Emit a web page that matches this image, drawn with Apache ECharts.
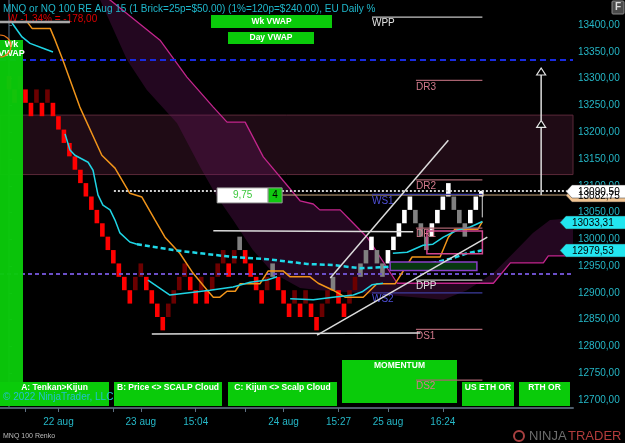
<!DOCTYPE html>
<html>
<head>
<meta charset="utf-8">
<title>MNQ 100 Renko</title>
<script src="https://cdn.jsdelivr.net/npm/echarts@6.0.0/dist/echarts.min.js"></script>
<style>
  html, body { margin: 0; padding: 0; background: #000; overflow: hidden; }
  #mychart { width: 625px; height: 443px; }
</style>
</head>
<body>
<div id="mychart"></div>
<script>
"use strict";
const FONT = '"Liberation Sans", Arial, sans-serif';

// renko bricks of 25 points, low edge of each brick, oldest first
// (the first three sit under the left "Wk VWAP" box)
const brickSize = 25;
const brickLow = [
    13280, 13255, 13280, 13255, 13230, 13255, 13230, 13255, 13230, 13205,
    13180, 13155, 13130, 13105, 13080, 13055, 13030, 13005, 12980, 12955,
    12930, 12905, 12880, 12905, 12930, 12905, 12880, 12855, 12830, 12855,
    12880, 12905, 12930, 12905, 12880, 12905, 12880, 12905, 12930, 12955,
    12930, 12955, 12980, 12955, 12930, 12905, 12880, 12905, 12930, 12905,
    12880, 12855, 12880, 12855, 12880, 12855, 12830, 12855, 12880, 12905,
    12880, 12855, 12880, 12905, 12930, 12955, 12980, 12955, 12930, 12955,
    12980, 13005, 13030, 13055, 13030, 13005, 12980, 13005, 13030, 13055,
    13080, 13055, 13030, 13005, 13030, 13055
];
// R = down, D = up in downtrend, G = grey, W = up
const brickType = ('RRDRRDRDRR' + 'RRRRRRRRRR' + 'RRRDDRRRRD' + 'DDDRRDRDDD' + 'RDGRRRRDGR' +
    'RRDRDRRDDG' + 'RRDDGGWGGW' + 'WWWWGGGWWW' + 'WGGGWW').split('');
// forming brick: index, open, close, low, high
const lastBar = [86, 13080, 13090.5, 13041, 13092];

// x axis (brick index)
const tickIdx = [3, 9, 19, 24, 34, 43, 50, 60, 69, 79];
const labelIdx = [9, 24, 34, 50, 60, 69, 79];
const labelText = ['22 aug', '23 aug', '15:04', '24 aug', '15:27', '25 aug', '16:24'];
const yTicks = [12700, 12750, 12800, 12850, 12900, 12950, 13000, 13050, 13100, 13150,
    13200, 13250, 13300, 13350, 13400];

// indicators, [brick index, price]
const orangeLine = [[3.1, 13409], [4.2, 13394], [7.5, 13394], [8.4, 13372], [9.8, 13335], [12.9, 13247],
    [16.9, 13157], [19.3, 13133], [22.0, 13086], [24.2, 13079], [26.6, 13036], [28.4, 13004],
    [31.1, 12974], [33.5, 12937], [36.1, 12905], [37.2, 12892], [38.4, 12892], [39.7, 12903],
    [41.2, 12903], [42.1, 12917], [45.7, 12917], [47.2, 12941], [49.9, 12941], [51.2, 12930],
    [54.8, 12930], [56.3, 12918], [59.0, 12905], [61.2, 12892], [64.5, 12892], [67.0, 12917],
    [70.3, 12917], [73.4, 12967], [78.5, 12967], [80.0, 13004], [81.2, 13019], [85.4, 13019],
    [86.2, 13033]];
const cyanLine = [[0.55, 13404], [2.37, 13378], [3.83, 13366], [6.19, 13357], [8.01, 13350], [9, null],
    [10.2, 13197], [11.1, 13167], [12.0, 13157], [14.4, 13144], [15.3, 13129], [16.2, 13083],
    [17.1, 13064], [18.4, 13055], [19.3, 13036], [20.2, 13012], [22.0, 12995], [23.3, 12991], [24, null],
    [25.3, 12924], [29.3, 12896], [32.4, 12900], [36.6, 12905], [40.8, 12911], [43.9, 12920],
    [47.0, 12924], [48.8, 12930], [50, null],
    [51.2, 12889], [55.4, 12887], [59.0, 12892], [62.7, 12896], [64.3, 12902], [66.1, 12915],
    [68.1, 12918], [69, null],
    [69.9, 12974], [72.5, 12976], [75.4, 12989], [77.2, 12991], [79.1, 13004], [81.6, 13017],
    [84.0, 13023], [86.2, 13033.31]];
const cyanDashed = [[23.3, 12991], [29.9, 12980], [34.8, 12974], [40.8, 12967], [47.0, 12963],
    [54.3, 12954], [59.0, 12952], [63.9, 12946], [68.1, 12948], [73.0, 12952], [77.2, 12956],
    [80.9, 12965], [83.4, 12974], [86.2, 12979.53]];
// cloud edges
const spanUpper = [[16.0, 13465], [18.4, 13447], [27.5, 13372], [32.4, 13303], [37.2, 13247],
    [39.7, 13219], [43.0, 13219], [46.3, 13154], [53.0, 13072], [55.4, 13066], [56.6, 13055],
    [60.3, 13055], [62.7, 13030], [65.2, 13004], [70.7, 12918], [88.2, 12918], [91.3, 12956],
    [97.3, 12956], [98.2, 12969], [103.1, 12969]];
const spanLower = [[15.7, 13465], [16.6, 13447], [21.5, 13335], [25.1, 13279], [30.6, 13217],
    [34.8, 13135], [37.9, 13079], [40.8, 13036], [44.4, 12980], [48.1, 12937], [53.0, 12909],
    [56.6, 12905], [63.9, 12900], [71.2, 12894], [79.1, 12887], [83.4, 12905], [88.2, 12937],
    [91.8, 12974], [95.4, 13012], [98.5, 13036], [103.1, 13040]];

// levels
const pivotNames = ['WPP', 'DR3', 'DR2', 'WS1', 'DR1', 'DPP', 'WS2', 'DS1', 'DS2'];
const pivotValues = [13415, 13297, 13111, 13084, 13021, 12924, 12900, 12832, 12737];
const supplyZone = [13232, 13121];
const dashLevels = [13336, 12935];
const lastPrice = 13090.50;
const tanLevel = 13082.75;
const plotMarks = [13033.31, 12979.53];
// drawn objects: [index0, price0, index1, price1]
const trendLines = [[58.5, 12928, 80.0, 13185], [56.1, 12821, 87.1, 13004], [37.2, 13016, 73.6, 13014],
    [26.0, 12823, 74.9, 12825], [-2, 13406, 11.1, 13406]];
const zoneBoxes = [[76.1, 86.2, 13015.5, 12973], [69.4, 85.2, 12957.6, 12941.7]];
const arrowIdx = 96.9;
const arrowSteps = [13083, 13222, 13320];

const brickColors = { R: '#ff0000', D: '#6c0000', G: '#808080', W: '#ffffff' };
const fmt = v => v.toFixed(2).replace('.', ',');

const container = document.getElementById('mychart');
const myChart = echarts.init(container);

function lineSeries(data, color, width, type, z) {
    return {
        type: 'line', data, z, silent: true, symbol: 'none', showSymbol: false,
        connectNulls: false, animation: false,
        lineStyle: { color, width, type: type || 'solid' }
    };
}

function pivotColor(name) {
    if (name === 'WPP' || name === 'DPP') {
        return { line: '#c4c4c4', text: '#e2e2e2' };
    }
    if (name[0] === 'W') {
        return { line: '#3d3d9e', text: '#4f4fd8' };
    }
    return { line: '#a8626f', text: '#d27a8c' };
}

const option = {
    animation: false,
    backgroundColor: '#000',
    grid: { left: 0, right: 52, top: 0, bottom: 35 },
    xAxis: {
        type: 'value', min: -1.64, max: 102.7,
        splitLine: { show: false },
        axisLine: { lineStyle: { color: '#4e5d6b', width: 2 } },
        axisTick: { customValues: tickIdx, length: 4, lineStyle: { color: '#5d6f80' } },
        axisLabel: {
            customValues: labelIdx, color: '#25b7c7', fontSize: 10, fontFamily: FONT, margin: 9,
            formatter: v => {
                const k = labelIdx.indexOf(Math.round(v));
                return k >= 0 ? labelText[k] : '';
            }
        }
    },
    yAxis: {
        type: 'value', position: 'right', min: 12685, max: 13447,
        splitLine: { show: false },
        axisLine: { show: true, lineStyle: { color: '#3f5060', width: 1.5 } },
        axisTick: { show: true, customValues: yTicks, length: 3, lineStyle: { color: '#5d6f80' } },
        axisLabel: { customValues: yTicks, color: '#25b7c7', fontSize: 10, fontFamily: FONT, margin: 5, formatter: v => fmt(v) }
    },
    series: [
        {
            // cloud + supply zone
            type: 'custom', z: 1, silent: true, clip: true,
            data: [[50, 13000]],
            renderItem(params, api) {
                const pts = spanUpper.map(p => api.coord(p))
                    .concat(spanLower.slice().reverse().map(p => api.coord(p)));
                return { type: 'polygon', shape: { points: pts }, style: { fill: 'rgba(110,22,100,0.32)' } };
            },
            markArea: {
                silent: true,
                itemStyle: { color: 'rgba(78,28,52,0.4)', borderColor: '#5a2838', borderWidth: 1 },
                data: [[{ yAxis: supplyZone[0] }, { yAxis: supplyZone[1] }]]
            }
        },
        lineSeries(spanUpper, '#c2258c', 1.3, 'solid', 3),
        {
            type: 'custom', z: 4, silent: true, clip: true,
            data: brickLow.map((lo, i) => [i, lo, lo + brickSize]),
            renderItem(params, api) {
                const top = api.coord([api.value(0), api.value(2)]);
                const bot = api.coord([api.value(0), api.value(1)]);
                const w = api.size([1, 0])[0] * 0.84;
                return {
                    type: 'rect',
                    shape: { x: top[0] - w / 2, y: top[1], width: w, height: bot[1] - top[1] },
                    style: { fill: brickColors[brickType[params.dataIndex]] }
                };
            }
        },
        {
            type: 'custom', z: 4, silent: true,
            data: [lastBar],
            renderItem(params, api) {
                const i = api.value(0);
                const o = api.coord([i, api.value(1)]), c = api.coord([i, api.value(2)]);
                const l = api.coord([i, api.value(3)]), h = api.coord([i, api.value(4)]);
                const w = api.size([1, 0])[0] * 0.84;
                return {
                    type: 'group', children: [
                        { type: 'line', shape: { x1: o[0] + 1, y1: h[1], x2: o[0] + 1, y2: l[1] }, style: { stroke: '#d8d8d8', lineWidth: 1 } },
                        { type: 'rect', shape: { x: o[0] - w / 2, y: c[1], width: w, height: o[1] - c[1] }, style: { fill: '#ffffff' } }
                    ]
                };
            }
        },
        lineSeries(orangeLine, '#f0941a', 1.5, 'solid', 6),
        lineSeries(cyanLine, '#1fd4e4', 1.5, 'solid', 6),
        lineSeries(cyanDashed, '#1fd8e8', 2.5, [5, 3], 6),
        Object.assign(lineSeries([[19.1, lastPrice], [102.7, lastPrice]], '#d0d0d0', 2, [2, 2], 10), {
            markLine: {
                silent: true, symbol: 'none', label: { show: false },
                data: [
                    { yAxis: dashLevels[0], lineStyle: { color: '#1a2be0', width: 2, type: [6, 4] } },
                    { yAxis: dashLevels[1], lineStyle: { color: '#6b4fc8', width: 2, type: [4, 3] } }
                ]
            }
        }),
        lineSeries([[38, tanLevel], [102.7, tanLevel]], '#c9a77c', 1, 'solid', 9),
        {
            type: 'custom', z: 7, silent: true,
            data: zoneBoxes,
            renderItem(params, api) {
                const a = api.coord([api.value(0), api.value(2)]);
                const b = api.coord([api.value(1), api.value(3)]);
                const pink = params.dataIndex === 0;
                return {
                    type: 'rect',
                    shape: { x: a[0], y: a[1], width: b[0] - a[0], height: b[1] - a[1] },
                    style: pink ? { fill: 'none', stroke: '#d0468e', lineWidth: 1.5 }
                        : { fill: '#07380f', stroke: '#8a3fc8', lineWidth: 1.5 }
                };
            }
        },
        {
            type: 'custom', z: 25, silent: true,
            data: pivotValues.map((v, i) => [i, v]),
            renderItem(params, api) {
                const name = pivotNames[params.dataIndex];
                const v = api.value(1);
                const a = api.coord([name[0] === 'W' ? 66.1 : 74.1, v]);
                const b = api.coord([86.2, v]);
                const col = pivotColor(name);
                return {
                    type: 'group', children: [
                        { type: 'line', shape: { x1: a[0], y1: a[1], x2: b[0], y2: b[1] }, style: { stroke: col.line, lineWidth: 1.2 } },
                        { type: 'text', style: { x: a[0], y: a[1] + 1.5, text: name, fill: col.text, font: '10px ' + FONT, textAlign: 'left', textVerticalAlign: 'top', align: 'left', verticalAlign: 'top' } }
                    ]
                };
            }
        },
        {
            type: 'custom', z: 35, silent: true, clip: true,
            data: trendLines,
            renderItem(params, api) {
                const a = api.coord([api.value(0), api.value(1)]);
                const b = api.coord([api.value(2), api.value(3)]);
                const grey = params.dataIndex === trendLines.length - 1;
                return {
                    type: 'line', shape: { x1: a[0], y1: a[1], x2: b[0], y2: b[1] },
                    style: { stroke: grey ? '#a8a8a8' : '#dcdcdc', lineWidth: grey ? 2.5 : 1.5 }
                };
            }
        },
        {
            type: 'custom', z: 35, silent: true,
            data: arrowSteps.slice(1).map((v, i) => [arrowIdx, arrowSteps[i], v]),
            renderItem(params, api) {
                const a = api.coord([api.value(0), api.value(1)]);
                const b = api.coord([api.value(0), api.value(2)]);
                return {
                    type: 'group', children: [
                        { type: 'line', shape: { x1: a[0], y1: a[1], x2: b[0], y2: b[1] + 1 }, style: { stroke: '#dcdcdc', lineWidth: 1.5 } },
                        { type: 'polygon', shape: { points: [[b[0], b[1]], [b[0] - 4.5, b[1] + 7], [b[0] + 4.5, b[1] + 7]] }, style: { fill: '#000', stroke: '#e4e4e4', lineWidth: 1.2 } }
                    ]
                };
            }
        }
    ]
};
myChart.setOption(option);

// chrome and price markers
const py = v => myChart.convertToPixel({ yAxisIndex: 0 }, v);
const px = i => myChart.convertToPixel({ xAxisIndex: 0 }, i);
const GREEN = '#0acb0a';

function txt(x, y, text, fill, size, extra) {
    return Object.assign({
        type: 'text', z: 30,
        style: Object.assign({ x, y, text, fill, font: size + 'px ' + FONT, textAlign: 'left', textVerticalAlign: 'middle', align: 'left', verticalAlign: 'middle' }, extra || {})
    });
}
function box(x, y, w, h, label, ly, z) {
    return [
        { type: 'rect', z: z, shape: { x, y, width: w, height: h }, style: { fill: GREEN } },
        txt(x + w / 2, ly, label, '#ffffff', 8.5, { font: 'bold 8.5px ' + FONT, textAlign: 'center', align: 'center' })
    ].map(e => Object.assign(e, { z }));
}
function marker(v, tip, fill) {
    const y = Math.round(py(v)) + 0.5;
    return [
        { type: 'polygon', z: 50, shape: { points: [[tip, y], [tip + 6, y - 6.5], [626, y - 6.5], [626, y + 6.5], [tip + 6, y + 6.5]] }, style: { fill, stroke: '#333', lineWidth: 0.5 } },
        Object.assign(txt(tip + 12, y + 0.5, fmt(v), '#000', 10), { z: 51 })
    ];
}

const ly = py(lastPrice);
const bx = px(37.9);
const graphics = [].concat(
    [txt(3, 9, 'MNQ or NQ 100 RE Aug 15 (1 Brick=25p=$50.00) (1%=120p=$240.00), EU Daily %', '#1fb8cc', 10),
     Object.assign(txt(8, 19.5, 'W -1,34% = -178,00', '#dd0000', 10), { z: 30 })],
    box(211, 15, 121, 13, 'Wk VWAP', 21.5, 20),
    box(228, 32, 86, 12, 'Day VWAP', 38, 20),
    [{ type: 'rect', z: 5, shape: { x: 0, y: 40, width: 23, height: 352 }, style: { fill: GREEN, opacity: 0.96 } },
     Object.assign(txt(11.5, 45, 'Wk', '#fff', 9, { font: 'bold 9px ' + FONT, textAlign: 'center', align: 'center' }), { z: 6 }),
     Object.assign(txt(11.5, 54, 'VWAP', '#fff', 9, { font: 'bold 9px ' + FONT, textAlign: 'center', align: 'center' }), { z: 6 }),
     { type: 'arc', z: 6, shape: { cx: 0, cy: 46, r: 11, startAngle: -Math.PI / 2, endAngle: Math.PI / 2 }, style: { stroke: '#e8761a', fill: 'none', lineWidth: 1.2 } }],
    box(0, 382, 109, 24, 'A: Tenkan>Kijun', 388, 20),
    box(114, 382, 108, 24, 'B: Price <> SCALP Cloud', 388, 20),
    box(228, 382, 109, 24, 'C: Kijun <> Scalp Cloud', 388, 20),
    box(342, 360, 115, 43, 'MOMENTUM', 366, 20),
    box(462, 382, 52, 24, 'US ETH OR', 388, 20),
    box(519, 382, 51, 24, 'RTH OR', 388, 20),
    [Object.assign(txt(3, 397, '\u00a9 2022 NinjaTrader, LLC', '#22c0d0', 10), { z: 21 }),
     txt(3, 436, 'MNQ 100 Renko', '#bbbbbb', 7),
     { type: 'circle', z: 30, shape: { cx: 519, cy: 436, r: 5 }, style: { fill: 'none', stroke: '#a84040', lineWidth: 2 } },
     txt(529, 436, 'NINJA', '#6e6e6e', 13),
     txt(568, 436, 'TRADER', '#b23c3c', 13),
     { type: 'rect', z: 30, shape: { x: 612, y: 1, width: 12, height: 13, r: 1 }, style: { fill: '#4a4a4a', stroke: '#8a8a8a', lineWidth: 1 } },
     txt(618, 7.5, 'F', '#dddddd', 10, { font: 'bold 10px ' + FONT, textAlign: 'center', align: 'center' }),
     // ruler box on the price line
     { type: 'rect', z: 45, shape: { x: bx, y: ly - 3, width: 51, height: 15 }, style: { fill: '#ffffff', stroke: '#9a9a9a', lineWidth: 1 } },
     Object.assign(txt(bx + 25.5, ly + 4.5, '9,75', '#3cc83c', 10, { textAlign: 'center', align: 'center' }), { z: 46 }),
     { type: 'rect', z: 45, shape: { x: bx + 51, y: ly - 3, width: 14, height: 15 }, style: { fill: '#10c810', stroke: '#9a9a9a', lineWidth: 1 } },
     Object.assign(txt(bx + 58, ly + 4.5, '4', '#000', 10, { textAlign: 'center', align: 'center' }), { z: 46 })],
    marker(tanLevel, 566, '#f2c592'),
    marker(lastPrice, 566, '#ffffff'),
    marker(plotMarks[0], 560, '#22e6f0'),
    marker(plotMarks[1], 560, '#22e6f0')
);
myChart.setOption({ graphic: graphics });
</script>
</body>
</html>
